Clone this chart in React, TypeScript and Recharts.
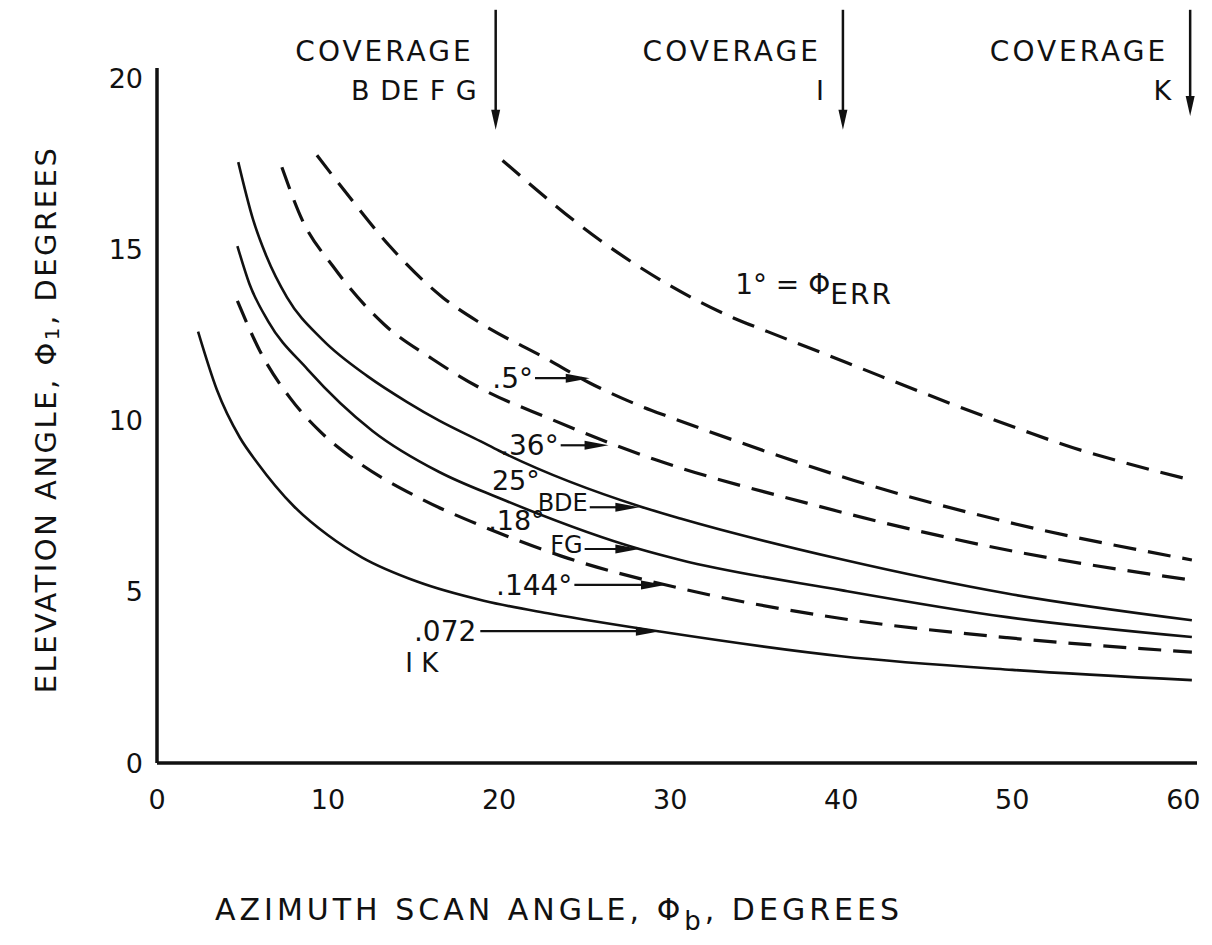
import React from "react";
import { LineChart, Line, XAxis, YAxis, ReferenceLine, ReferenceDot } from "recharts";

const FONT = "'DejaVu Sans', 'Liberation Sans', sans-serif";

const X_TICKS = [0, 10, 20, 30, 40, 50, 60];
const Y_TICKS = [0, 5, 10, 15, 20];

// 1 deg = PHI_ERR (dashed)
const AZ_100 = [20.2, 25.9, 29.8, 33.7, 35.7, 40.3, 42.3, 50.6, 53.6, 56.5, 60.5];
const EL_100 = [17.6, 15.27, 14.0, 13.0, 12.6, 11.7, 11.3, 9.72, 9.2, 8.78, 8.26];
// .5 deg (dashed)
const AZ_050 = [9.35, 11.3, 13.6, 16.7, 18.9, 22.8, 25.3, 28.4, 30, 36.6, 40.7, 49.7, 60.5];
const EL_050 = [17.75, 16.5, 15.1, 13.6, 12.85, 11.8, 11.1, 10.4, 10.1, 8.93, 8.26, 7.04, 5.93];
// .36 deg (dashed)
const AZ_036 = [7.3, 8.5, 10.3, 13.3, 16.1, 18.9, 23, 26.5, 29.2, 38, 42.3, 49.7, 60.5];
const EL_036 = [17.4, 15.85, 14.5, 12.8, 11.8, 10.95, 10.05, 9.34, 8.85, 7.59, 7.04, 6.22, 5.34];
// .25 deg BDE (solid)
const AZ_025 = [4.75, 5.6, 6.4, 7.6, 9.7, 12.3, 14.6, 16.5, 18.9, 20, 28.2, 30.6, 40, 49.7, 60.5];
const EL_025 = [17.55, 15.9, 14.8, 13.6, 12.35, 11.3, 10.55, 10.0, 9.4, 9.12, 7.5, 7.14, 5.95, 4.95, 4.17];
// .18 deg FG (solid)
const AZ_018 = [4.7, 5.4, 6.5, 8.8, 12.6, 16.5, 20, 28.2, 30.6, 40, 49.7, 60.5];
const EL_018 = [15.1, 14.0, 12.9, 11.5, 9.7, 8.5, 7.74, 6.25, 5.93, 5.05, 4.26, 3.68];
// .144 deg (dashed)
const AZ_0144 = [4.7, 6.0, 7.8, 9.5, 11.3, 15.3, 19.1, 23.6, 30.6, 40, 49.7, 60.5];
const EL_0144 = [13.5, 12.05, 10.65, 9.7, 8.95, 7.75, 6.9, 6.05, 5.1, 4.22, 3.66, 3.24];
// .072 deg IK (solid)
const AZ_0072 = [2.4, 3.5, 4.85, 5.85, 8.0, 10.0, 12.0, 15.2, 19.1, 23, 29.4, 40, 50, 60.5];
const EL_0072 = [12.6, 10.9, 9.5, 8.78, 7.5, 6.65, 6.0, 5.3, 4.74, 4.36, 3.84, 3.12, 2.72, 2.42];

// coverage markers at top
const COVER_X = [19.8, 40.1, 60.4];
const COVER_SUB = ["B DE F G", "I", "K"];
const COVER_TOP = 22.0;
const COVER_BOTTOM = [18.5, 18.5, 18.9];

// curve annotation arrows
const ANNOT_MAIN = [".5°", ".36°", "25°", ".18°", ".144°", ".072"];
const ANNOT_SUB = ["", "", "BDE", "FG", "", "I K"];
const ANNOT_FROM = [22.1, 23.6, 25.3, 25.0, 24.4, 18.9];
const ANNOT_TO = [25.3, 26.4, 28.2, 28.2, 29.7, 29.4];
const ANNOT_Y = [11.24, 9.28, 7.47, 6.25, 5.2, 3.85];

const toData = (xs: number[], ys: number[]) => xs.map((x, i) => ({ x, y: ys[i] }));

const SERIES = [
  { key: "e100", data: toData(AZ_100, EL_100), dashed: true },
  { key: "e050", data: toData(AZ_050, EL_050), dashed: true },
  { key: "e036", data: toData(AZ_036, EL_036), dashed: true },
  { key: "e025", data: toData(AZ_025, EL_025), dashed: false },
  { key: "e018", data: toData(AZ_018, EL_018), dashed: false },
  { key: "e0144", data: toData(AZ_0144, EL_0144), dashed: true },
  { key: "e0072", data: toData(AZ_0072, EL_0072), dashed: false },
];

const CoverShape = (label: string) => (props: any) => {
  const { x1, y1, y2 } = props;
  const x = x1;
  const top = Math.min(y1, y2);
  const bot = Math.max(y1, y2);
  return (
    <g>
      <line x1={x} y1={top} x2={x} y2={bot - 14} stroke="#111" strokeWidth={2.5} />
      <polygon points={`${x - 4.5},${bot - 20} ${x + 4.5},${bot - 20} ${x},${bot}`} fill="#111" />
      <text x={x - 22} y={top + 51} textAnchor="end" fontFamily={FONT} fontSize={28} letterSpacing={3} fill="#111">
        COVERAGE
      </text>
      <text x={x - 18} y={top + 90} textAnchor="end" fontFamily={FONT} fontSize={27} letterSpacing={1} fill="#111">
        {label}
      </text>
    </g>
  );
};

const AnnotShape = (idx: number) => (props: any) => {
  const { x1, y1, x2 } = props;
  const y = y1;
  const main = ANNOT_MAIN[idx];
  const sub = ANNOT_SUB[idx];
  const head = 24;
  let texts: React.ReactNode = null;
  if (!sub) {
    texts = (
      <text x={x1 - 2} y={y + 10} textAnchor="end" fontFamily={FONT} fontSize={28} fill="#111">
        {main}
      </text>
    );
  } else if (idx === ANNOT_MAIN.length - 1) {
    texts = (
      <g>
        <text x={x1 - 4} y={y + 10} textAnchor="end" fontFamily={FONT} fontSize={28} fill="#111">
          {main}
        </text>
        <text x={x1 - 75} y={y + 41} textAnchor="start" fontFamily={FONT} fontSize={26} fill="#111">
          {sub}
        </text>
      </g>
    );
  } else {
    const shift = idx === 2 ? 50 : 40;
    const up = idx === 2 ? 17 : 19;
    texts = (
      <g>
        <text x={x1 - shift} y={y - up} textAnchor="end" fontFamily={FONT} fontSize={27} fill="#111">
          {main}
        </text>
        <text x={x1 - 2} y={y + 4} textAnchor="end" fontFamily={FONT} fontSize={24} fill="#111">
          {sub}
        </text>
      </g>
    );
  }
  return (
    <g>
      <line x1={x1} y1={y} x2={x2 - head + 4} y2={y} stroke="#111" strokeWidth={2.2} />
      <polygon points={`${x2 - head},${y - 4.5} ${x2},${y} ${x2 - head},${y + 4.5}`} fill="#111" />
      {texts}
    </g>
  );
};

const ErrLabel = (props: any) => {
  const { cx, cy } = props;
  return (
    <text x={cx} y={cy + 10} fontFamily={FONT} fontSize={28} fill="#111">
      1° = Φ
      <tspan dy={10} fontSize={28} letterSpacing={2}>ERR</tspan>
    </text>
  );
};

const XTitle = (props: any) => {
  const { viewBox } = props;
  const x = viewBox.x + 58;
  const y = viewBox.y + 157;
  return (
    <text x={x} y={y} fontFamily={FONT} fontSize={30} letterSpacing={4} fill="#111">
      AZIMUTH  SCAN  ANGLE,  Φ
      <tspan dy={10} fontSize={26}>b</tspan>
      <tspan dy={-10}>, DEGREES</tspan>
    </text>
  );
};

const YTitle = (props: any) => {
  const { viewBox } = props;
  const cx = 38;
  const cy = viewBox.y + viewBox.height / 2 + 4;
  return (
    <text
      x={cx}
      y={cy}
      transform={`rotate(-90 ${cx} ${cy})`}
      textAnchor="middle"
      dominantBaseline="central"
      fontFamily={FONT}
      fontSize={29}
      letterSpacing={2.5}
      fill="#111"
    >
      ELEVATION  ANGLE,  Φ
      <tspan dy={6} fontSize={20}>1</tspan>
      <tspan dy={-6}>,  DEGREES</tspan>
    </text>
  );
};

export default function App() {
  return (
    <div style={{ width: 1204, height: 930, background: "#fff" }}>
      <LineChart
        width={1204}
        height={930}
        margin={{ top: 60, right: 15, bottom: 135, left: 89 }}
        style={{ background: "#fff" }}
      >
        <XAxis
          type="number"
          dataKey="x"
          domain={[0, 60.8]}
          ticks={X_TICKS}
          allowDataOverflow
          height={40}
          tickLine={false}
          tickSize={8}
          tickMargin={19}
          axisLine={{ stroke: "#111", strokeWidth: 3.5 }}
          tick={{ fill: "#111", fontSize: 27, fontFamily: FONT }}
          label={<XTitle />}
        />
        <YAxis
          type="number"
          dataKey="y"
          domain={[0, 20.3]}
          ticks={Y_TICKS}
          allowDataOverflow
          width={60}
          tickLine={false}
          tickSize={8}
          tickMargin={6}
          axisLine={{ stroke: "#111", strokeWidth: 3.5 }}
          tick={{ fill: "#111", fontSize: 27, fontFamily: FONT }}
          label={<YTitle />}
        />
        {SERIES.map((s) => (
          <Line
            key={s.key}
            data={s.data}
            dataKey="y"
            type="monotone"
            stroke="#111"
            strokeWidth={s.dashed ? 3.2 : 2.6}
            strokeDasharray={s.dashed ? "23 12" : undefined}
            dot={false}
            activeDot={false}
            isAnimationActive={false}
          />
        ))}
        {COVER_X.map((x, i) => (
          <ReferenceLine
            key={`cov${i}`}
            segment={[
              { x, y: COVER_TOP },
              { x, y: COVER_BOTTOM[i] },
            ]}
            ifOverflow="visible"
            shape={CoverShape(COVER_SUB[i])}
          />
        ))}
        {ANNOT_MAIN.map((m, i) => (
          <ReferenceLine
            key={`ann${i}`}
            segment={[
              { x: ANNOT_FROM[i], y: ANNOT_Y[i] },
              { x: ANNOT_TO[i], y: ANNOT_Y[i] },
            ]}
            ifOverflow="visible"
            shape={AnnotShape(i)}
          />
        ))}
        <ReferenceDot x={33.8} y={14.0} r={0} ifOverflow="visible" shape={ErrLabel} />
      </LineChart>
    </div>
  );
}
